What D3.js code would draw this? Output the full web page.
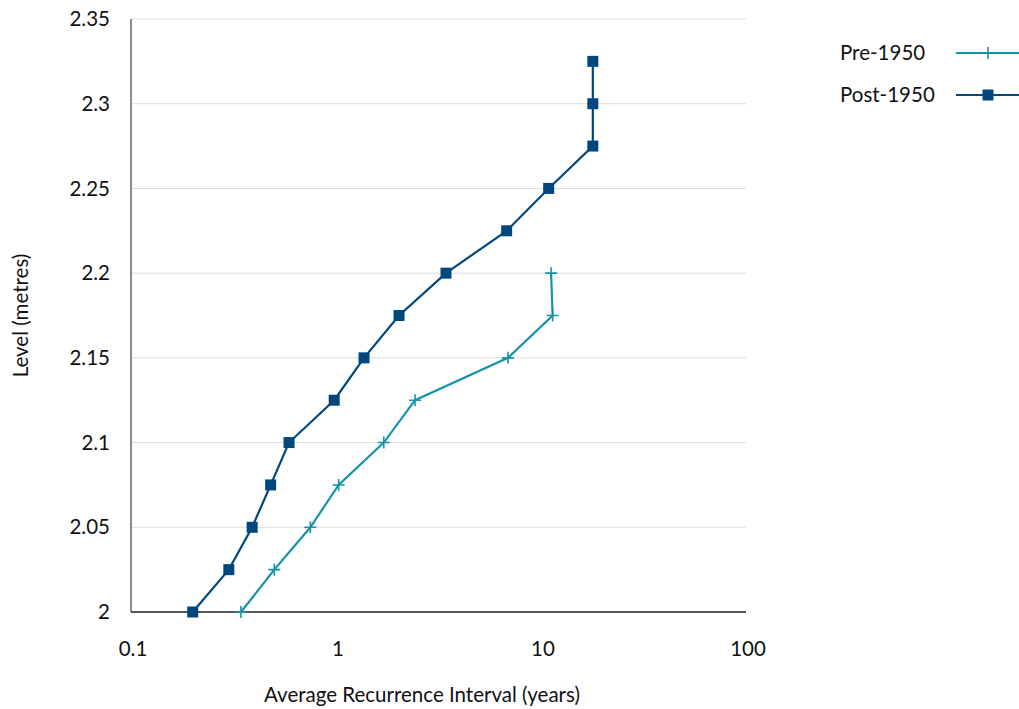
<!DOCTYPE html>
<html>
<head>
<meta charset="utf-8">
<script src="https://cdn.jsdelivr.net/npm/d3@7"></script>
<style>
  body { margin: 0; background: #fff; }
  svg { font-family: Lato, "Open Sans", sans-serif; }
</style>
</head>
<body>
<div id="chart"></div>
<script>
// levels (metres)
const levelsPre = [2, 2.025, 2.05, 2.075, 2.1, 2.125, 2.15, 2.175, 2.2];
const intervalsPre = [0.344, 0.5, 0.75, 1.03, 1.71, 2.43, 6.9, 11.4, 11.2];

const levelsPost = [2, 2.025, 2.05, 2.075, 2.1, 2.125, 2.15, 2.175, 2.2, 2.225, 2.25, 2.275, 2.3, 2.325];
const intervalsPost = [0.2, 0.3, 0.39, 0.48, 0.59, 0.98, 1.37, 2.03, 3.44, 6.8, 10.9, 17.9, 17.9, 17.9];

const xTicks = [0.1, 1, 10, 100];
const yTicks = [2, 2.05, 2.1, 2.15, 2.2, 2.25, 2.3, 2.35];

const series = [
  { name: 'Pre-1950', color: '#1593ab', marker: 'plus',
    values: levelsPre.map((y, i) => ({ x: intervalsPre[i], y })) },
  { name: 'Post-1950', color: '#00477e', marker: 'square',
    values: levelsPost.map((y, i) => ({ x: intervalsPost[i], y })) }
];

const width = 1019, height = 709;
const margin = { left: 131, right: 273, top: 19, bottom: 97 };
const fontSize = '20.5px';

const svg = d3.select('#chart').append('svg')
  .attr('width', width)
  .attr('height', height);

const x = d3.scaleLog()
  .domain([0.1, 100])
  .range([margin.left, width - margin.right]);

const y = d3.scaleLinear()
  .domain([2, 2.35])
  .range([height - margin.bottom, margin.top]);

// gridlines
svg.append('g')
  .selectAll('line')
  .data(yTicks.slice(1))
  .join('line')
  .attr('x1', x(0.1))
  .attr('x2', x(100))
  .attr('y1', d => y(d))
  .attr('y2', d => y(d))
  .attr('stroke', '#dcdcdc')
  .attr('stroke-width', 1);

// axis lines
svg.append('line')
  .attr('x1', x(0.1)).attr('x2', x(0.1))
  .attr('y1', y(2.35)).attr('y2', y(2))
  .attr('stroke', '#666').attr('stroke-width', 1.5);

svg.append('line')
  .attr('x1', x(0.1)).attr('x2', x(100))
  .attr('y1', y(2)).attr('y2', y(2))
  .attr('stroke', '#555').attr('stroke-width', 2);

// tick labels
svg.append('g')
  .selectAll('text')
  .data(yTicks)
  .join('text')
  .attr('x', x(0.1) - 21)
  .attr('y', d => y(d))
  .attr('dy', '0.35em')
  .attr('text-anchor', 'end')
  .style('font-size', fontSize)
  .attr('fill', '#111')
  .text(d => d3.format('')(d));

svg.append('g')
  .selectAll('text')
  .data(xTicks)
  .join('text')
  .attr('x', d => x(d) + 2)
  .attr('y', y(2) + 44)
  .attr('text-anchor', 'middle')
  .style('font-size', fontSize)
  .attr('fill', '#111')
  .text(d => d3.format('')(d));

// axis titles
svg.append('text')
  .attr('x', 422)
  .attr('y', 702)
  .attr('text-anchor', 'middle')
  .style('font-size', fontSize)
  .attr('fill', '#111')
  .text('Average Recurrence Interval (years)');

svg.append('text')
  .attr('transform', `translate(28,${(y(2) + y(2.35)) / 2}) rotate(-90)`)
  .attr('text-anchor', 'middle')
  .style('font-size', fontSize)
  .attr('fill', '#111')
  .text('Level (metres)');

function drawMarker(g, type, color) {
  if (type === 'square') {
    g.append('rect')
      .attr('x', -5.5).attr('y', -5.5)
      .attr('width', 11).attr('height', 11)
      .attr('fill', color);
  } else {
    g.append('path')
      .attr('d', 'M-6,0H6M0,-6V6')
      .attr('stroke', color)
      .attr('stroke-width', 1.6)
      .attr('fill', 'none');
  }
}

const line = d3.line()
  .x(d => x(d.x))
  .y(d => y(d.y));

series.forEach(s => {
  svg.append('path')
    .datum(s.values)
    .attr('d', line)
    .attr('fill', 'none')
    .attr('stroke', s.color)
    .attr('stroke-width', 2.2);

  svg.append('g')
    .selectAll('g')
    .data(s.values)
    .join('g')
    .attr('transform', d => `translate(${x(d.x)},${y(d.y)})`)
    .each(function () { drawMarker(d3.select(this), s.marker, s.color); });
});

// legend
const legend = svg.append('g')
  .selectAll('g')
  .data(series)
  .join('g')
  .attr('transform', (d, i) => `translate(840,${53 + i * 42})`);

legend.append('text')
  .attr('dy', '0.35em')
  .style('font-size', fontSize)
  .attr('fill', '#111')
  .text(d => d.name);

legend.append('line')
  .attr('x1', 116).attr('x2', 179)
  .attr('stroke', d => d.color)
  .attr('stroke-width', 2.2);

legend.each(function (d) {
  const g = d3.select(this).append('g').attr('transform', 'translate(148,0)');
  drawMarker(g, d.marker, d.color);
});
</script>
</body>
</html>
